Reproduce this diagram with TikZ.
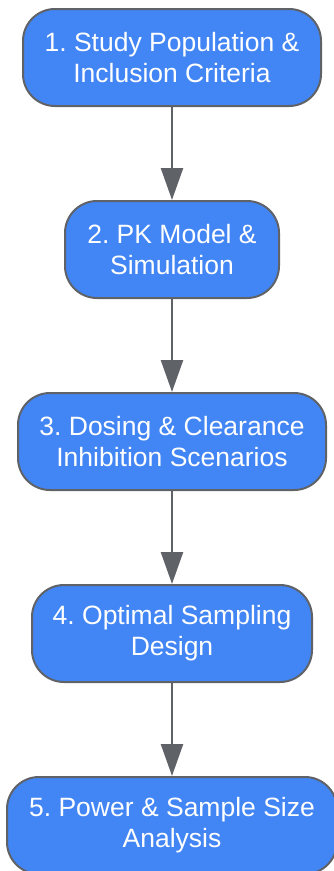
\documentclass[tikz,border=0pt]{standalone}
\usepackage{fontspec}
\setmainfont{Liberation Sans}
\frenchspacing
\usetikzlibrary{arrows.meta}
\definecolor{boxfill}{HTML}{4285F4}
\definecolor{edgegray}{HTML}{5F6368}
\tikzset{
  stepbox/.style={draw=edgegray, line width=2pt, fill=boxfill, rounded corners=32pt,
    minimum height=97pt, inner sep=0pt, align=center, text=white,
    font=\fontsize{26.5pt}{31pt}\selectfont},
  flow/.style={draw=edgegray, line width=2.5pt,
    -{Triangle[length=32pt,width=22pt]}}
}
\begin{document}
\begin{tikzpicture}[x=1pt,y=1pt]
\useasboundingbox (0,0) rectangle (334,-871);
\node[stepbox, minimum width=298pt] (n1) at (172,-57.5) {1. Study Population \&\\Inclusion Criteria};
\node[stepbox, minimum width=214pt] (n2) at (172,-249.5) {2. PK Model \&\\Simulation};
\node[stepbox, minimum width=308pt] (n3) at (172,-441.5) {3. Dosing \& Clearance\\Inhibition Scenarios};
\node[stepbox, minimum width=280pt] (n4) at (172,-633.5) {4. Optimal Sampling\\Design};
\node[stepbox, minimum width=330pt] (n5) at (172,-825.5) {5. Power \& Sample Size\\Analysis};
\draw[flow] (n1) -- (n2);
\draw[flow] (n2) -- (n3);
\draw[flow] (n3) -- (n4);
\draw[flow] (n4) -- (n5);
\end{tikzpicture}
\end{document}
